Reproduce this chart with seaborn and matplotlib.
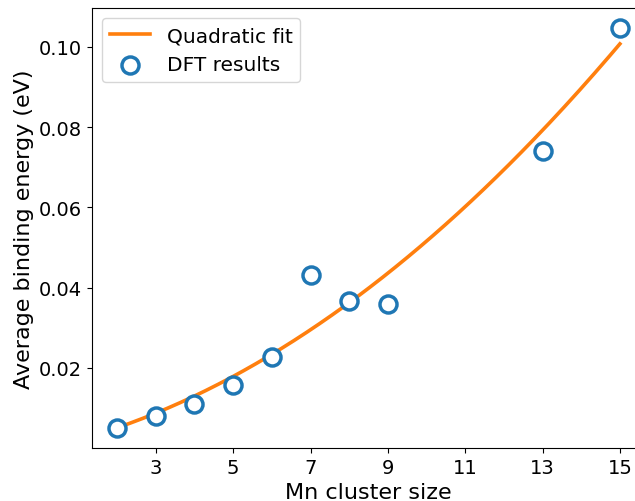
import numpy as np
import matplotlib
matplotlib.use("Agg")
import matplotlib.pyplot as plt
import seaborn as sns

# DFT binding energies per Mn cluster size
cluster_size = [2, 3, 4, 5, 6, 7, 8, 9, 13, 15]
binding_energy = [0.0050, 0.0080, 0.0110, 0.0158, 0.0227, 0.0432, 0.0367, 0.0360, 0.0741, 0.1047]
xticks = [3, 5, 7, 9, 11, 13, 15]
yticks = [0.02, 0.04, 0.06, 0.08, 0.10]

# quadratic fit through the DFT points
coef = np.polyfit(cluster_size, binding_energy, 2)
x_fit = np.linspace(min(cluster_size), max(cluster_size), 200)
y_fit = np.polyval(coef, x_fit)

fig = plt.figure(figsize=(6.35, 5.02), dpi=100)
ax = fig.add_axes([0.1449, 0.1056, 0.8709, 0.8765])

sns.lineplot(x=x_fit, y=y_fit, ax=ax, color="#ff7f0e", linewidth=2.6, label="Quadratic fit")
sns.scatterplot(x=cluster_size, y=binding_energy, ax=ax, marker="o", s=150,
                facecolor="white", edgecolor="#1f77b4", linewidth=2.5,
                label="DFT results", zorder=3)

ax.set_xticks(xticks)
ax.set_yticks(yticks)
ax.set_yticklabels([f"{v:.2f}" for v in yticks])
ax.tick_params(labelsize=14)
ax.set_xlabel("Mn cluster size", fontsize=16)
ax.set_ylabel("Average binding energy (eV)", fontsize=16)
ax.legend(loc="upper left", fontsize=14.5)

fig.savefig("out.png", dpi=100)
